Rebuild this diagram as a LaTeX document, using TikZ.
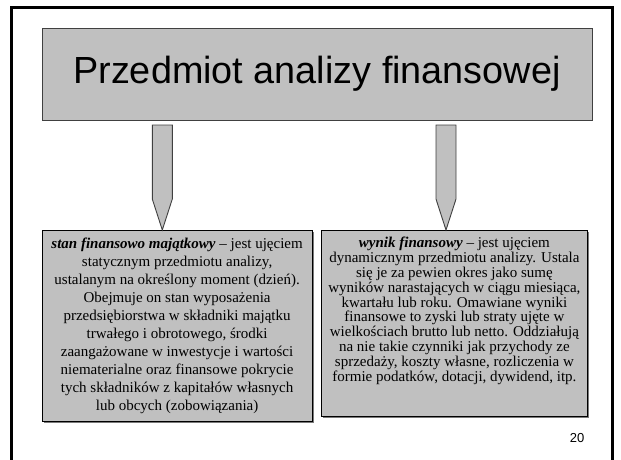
\documentclass[tikz,border=0pt]{standalone}
\usepackage{fontspec}
\setmainfont{Liberation Serif}
\newfontfamily\arialfont{Liberation Sans}
\definecolor{boxgray}{HTML}{C0C0C0}
\definecolor{edgegray}{HTML}{404040}
\definecolor{shadegray}{HTML}{7A7A7A}
\tikzset{
  framebox/.style={draw=black, line width=2.6pt},
  titlebox/.style={draw=edgegray, fill=boxgray, line width=0.8pt, minimum width=550pt, minimum height=92pt, inner sep=0pt,
    font=\arialfont\fontsize{37.8pt}{40pt}\selectfont},
  textbox/.style={draw=black, fill=boxgray, line width=0.8pt, inner sep=0pt, anchor=north west},
  shadowbox/.style={fill=shadegray},
  blockarrow/.style={draw=edgegray, fill=boxgray, line width=0.9pt, line join=miter},
  pagenum/.style={font=\arialfont\fontsize{13pt}{15pt}\selectfont}
}
\newcommand\blkarrow[4]{% x center, y top, y point start, y tip
  \draw[blockarrow] (#1-10,#2) -- (#1+10,#2) -- (#1+10,#3) -- (#1,#4) -- (#1-10,#3) -- cycle;}
\begin{document}
\begin{tikzpicture}[x=1pt,y=-1pt]
\useasboundingbox (0,0) rectangle (621,459);
\begin{scope}
\clip (0,0) rectangle (621,459);
\draw[framebox] (11.5,7.5) rectangle (612.5,475);
\end{scope}

\node[titlebox] (title) at (317,74) {Przedmiot analizy finansowej};

% shadows
\fill[shadowbox] (43.7,232) rectangle (313.7,422.7);
\fill[shadowbox] (323,232) rectangle (589,418);

\node[textbox] (lbox) at (41.7,230) {\parbox[t][190.7pt][t]{270pt}{\centering\fontsize{15pt}{17.9pt}\selectfont
\vspace*{8pt}\textbf{\textit{stan finansowo majątkowy}} -- jest ujęciem\\
statycznym przedmiotu analizy,\\
ustalanym na określony moment (dzień).\\
Obejmuje on stan wyposażenia\\
przedsiębiorstwa w składniki majątku\\
trwałego i obrotowego, środki\\
zaangażowane w inwestycje i wartości\\
niematerialne oraz finansowe pokrycie\\
tych składników z kapitałów własnych\\
lub obcych (zobowiązania)\par}};

\node[textbox] (rbox) at (321,230) {\parbox[t][186pt][t]{266pt}{\centering\fontsize{15pt}{14.8pt}\selectfont
\vspace*{7pt}\textbf{\textit{wynik finansowy}} -- jest ujęciem\\
dynamicznym przedmiotu analizy. Ustala\\
się je za pewien okres jako sumę\\
wyników narastających w ciągu miesiąca,\\
kwartału lub roku. Omawiane wyniki\\
finansowe to zyski lub straty ujęte w\\
wielkościach brutto lub netto. Oddziałują\\
na nie takie czynniki jak przychody ze\\
sprzedaży, koszty własne, rozliczenia w\\
formie podatków, dotacji, dywidend, itp.\par}};

\blkarrow{162.3}{125}{199}{230}
\blkarrow{446}{125}{199}{230}

\node[pagenum] (num) at (577,438) {20};
\end{tikzpicture}
\end{document}
